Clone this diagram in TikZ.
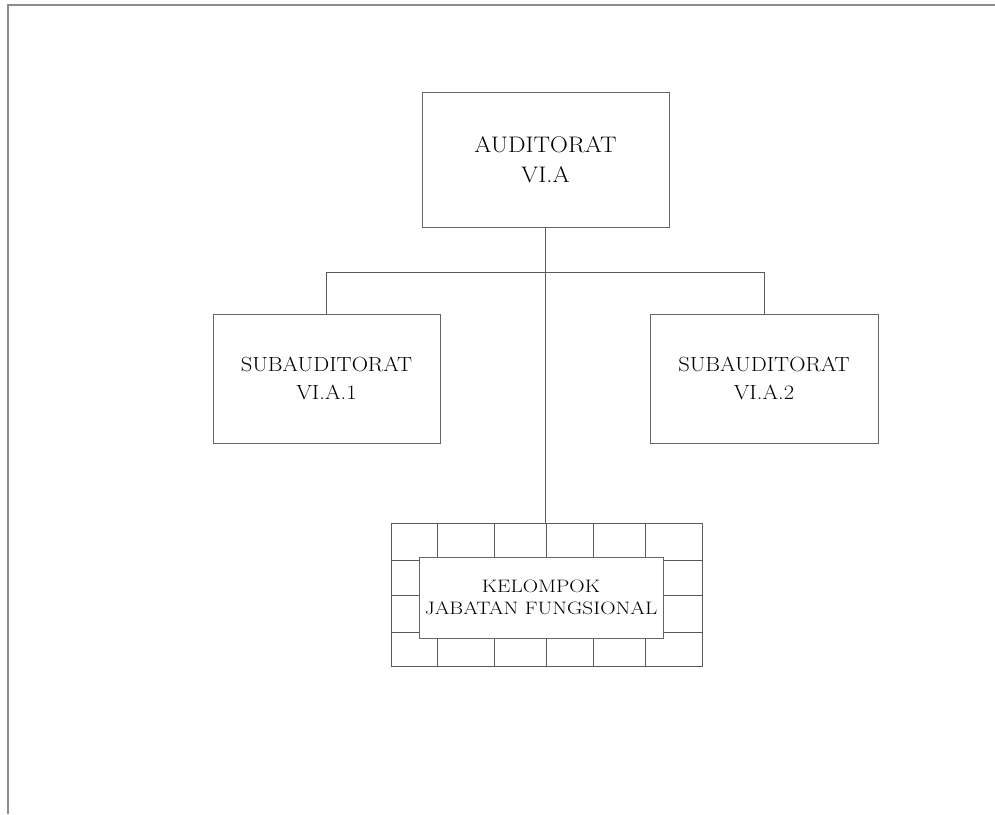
\documentclass[tikz,border=0pt]{standalone}
\usepackage{graphicx}
\newcommand\widetxt[2]{\scalebox{#1}[1]{#2}}
\begin{document}
\begin{tikzpicture}[x=1pt,y=-1pt,
  frame/.style={draw=gray!90, line width=1.2pt},
  box/.style={draw=black!60, line width=0.8pt, fill=white, inner sep=0pt, align=center},
  conn/.style={draw=black!65, line width=0.8pt},
  gridln/.style={draw=black!65, line width=0.8pt}]
\useasboundingbox (0,0) rectangle (995,814);
% page frame
\coordinate (ftl) at (8,5);
\coordinate (ftr) at (995,5);
\coordinate (fbl) at (8,814);
\draw[frame] (fbl) -- (ftl) -- (ftr);
% top box
\node[box, minimum width=247pt, minimum height=135pt, font=\fontsize{22.5}{30}\selectfont] (aud) at (545.5,159.5) {\widetxt{1.1}{AUDITORAT}\\\widetxt{1.1}{VI.A}};
% sub boxes
\node[box, minimum width=227pt, minimum height=129pt, font=\fontsize{20.5}{28}\selectfont] (sub1) at (326.5,378.5) {\widetxt{1.1}{SUBAUDITORAT}\\\widetxt{1.1}{VI.A.1}};
\node[box, minimum width=228pt, minimum height=129pt, font=\fontsize{20.5}{28}\selectfont] (sub2) at (764,378.5) {\widetxt{1.1}{SUBAUDITORAT}\\\widetxt{1.1}{VI.A.2}};
% grid
\node[draw=black!65, line width=0.8pt, minimum width=311pt, minimum height=143pt, inner sep=0pt] (grid) at (546.5,594.5) {};
\foreach \gx in {437,494,546,593,645}{\draw[gridln] (\gx,523) -- (\gx,666);}
\foreach \gy in {560,595,632}{\draw[gridln] (391,\gy) -- (702,\gy);}
\node[box, minimum width=244pt, minimum height=81pt, font=\fontsize{18}{22.5}\selectfont] (kjf) at (541,597.5) {\widetxt{1.18}{KELOMPOK}\\\widetxt{1.18}{JABATAN FUNGSIONAL}};
% connectors
\coordinate (bar) at (545,272);
\draw[conn] (aud.south) -- (aud.south |- grid.north);
\draw[conn] (sub1.north) |- (sub2.north |- bar) -- (sub2.north);
\end{tikzpicture}
\end{document}
